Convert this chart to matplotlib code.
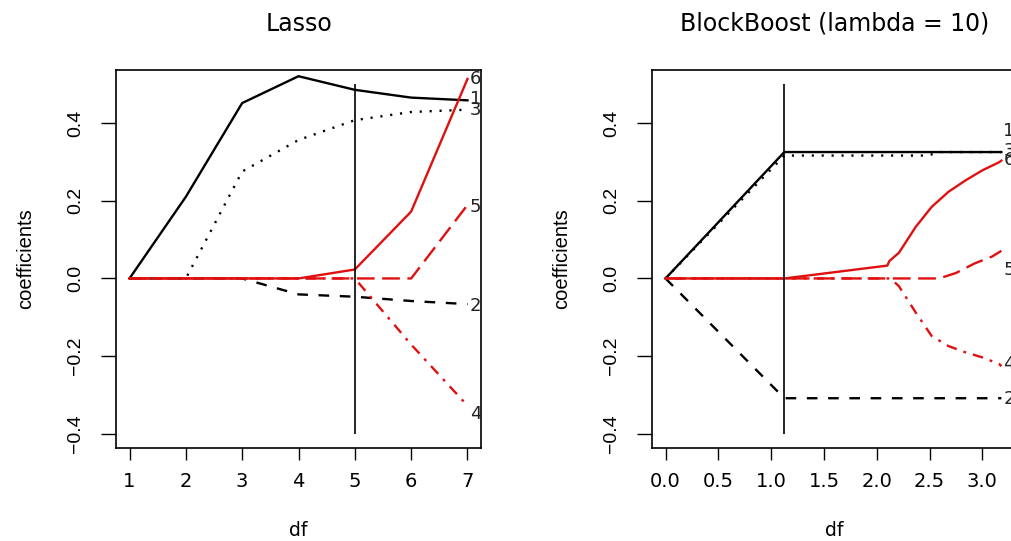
import numpy as np
import matplotlib
matplotlib.use("Agg")
import matplotlib.pyplot as plt

# Lasso path, coefficient values at each df step
lasso_df = [1, 2, 3, 4, 5, 6, 7]
lasso_b1 = [0, 0.21, 0.451, 0.52, 0.485, 0.465, 0.458]
lasso_b2 = [0, 0, 0, -0.041, -0.047, -0.058, -0.066]
lasso_b3 = [0, 0, 0.275, 0.356, 0.407, 0.428, 0.434]
lasso_b4 = [0, 0, 0, 0, 0, -0.17, -0.327]
lasso_b5 = [0, 0, 0, 0, 0, 0, 0.189]
lasso_b6 = [0, 0, 0, 0, 0.023, 0.172, 0.513]
lasso_cut = 5
lasso_lab_y = [0.462, -0.071, 0.434, -0.348, 0.185, 0.513]

# BlockBoost path (lambda = 10), df is continuous here
bb1_df = [0, 1.125, 3.18]
bb1_b = [0, 0.325, 0.325]
bb2_df = [0, 1.125, 3.18]
bb2_b = [0, -0.308, -0.308]
bb3_df = [0, 1.125, 2.48, 2.6, 3.18]
bb3_b = [0, 0.316, 0.316, 0.325, 0.325]
bb4_df = [0, 2.13, 2.21, 2.37, 2.52, 2.68, 2.84, 3.0, 3.16, 3.18]
bb4_b = [0, 0, -0.02, -0.088, -0.148, -0.174, -0.19, -0.203, -0.22, -0.226]
bb5_df = [0, 2.59, 2.75, 2.93, 3.09, 3.18]
bb5_b = [0, 0, 0.014, 0.039, 0.056, 0.071]
bb6_df = [0, 1.125, 2.1, 2.12, 2.21, 2.37, 2.52, 2.68, 2.84, 3.0, 3.16, 3.18]
bb6_b = [0, 0, 0.033, 0.045, 0.066, 0.133, 0.184, 0.223, 0.252, 0.278, 0.299, 0.303]
bb_cut = 1.125
bb_lab_y = [0.380, -0.31, 0.329, -0.221, 0.022, 0.304]

labels = ["1", "2", "3", "4", "5", "6"]
RED = "#e01010"
# colour / dash per coefficient, like matplot's lty = 1:6 cycle
styles = [
    dict(color="black", linestyle="-"),
    dict(color="black", dashes=(4.5, 4.5)),
    dict(color="black", dashes=(0.9, 3.3)),
    dict(color=RED, dashes=(1.2, 3.0, 4.5, 3.0)),
    dict(color=RED, dashes=(7.5, 3.2)),
    dict(color=RED, linestyle="-"),
]

TXT = "DejaVu Sans"
VTXT = "Liberation Sans"


def draw_path(ax, paths, cut, lab_y, xticks, xlim, title):
    for (x, y), st in zip(paths, styles):
        ax.plot(x, y, lw=1.7, **st)
    ax.vlines(cut, -0.4, 0.5, color="black", lw=1.2)

    x_end = [p[0][-1] for p in paths]
    for lbl, xe, ye in zip(labels, x_end, lab_y):
        ax.annotate(lbl, (xe, ye), xytext=(1.5, 0), textcoords="offset points",
                    ha="left", va="center", fontsize=13, family=TXT,
                    color="#222222", annotation_clip=False)

    ax.set_xlim(*xlim)
    ax.set_ylim(-0.436, 0.536)
    ax.set_xticks(xticks)
    ax.set_yticks([-0.4, -0.2, 0.0, 0.2, 0.4])
    ax.set_yticklabels(["\u22120.4", "\u22120.2", "0.0", "0.2", "0.4"])
    ax.tick_params(axis="x", length=8.6, width=1.0, pad=9, labelsize=14)
    ax.tick_params(axis="y", length=10.8, width=1.0, pad=12, labelsize=14,
                   labelrotation=90)
    for t in ax.get_xticklabels():
        t.set_family(TXT)
    for t in ax.get_yticklabels():
        t.set_family(VTXT)
        t.set_va("center")
    for s in ax.spines.values():
        s.set_linewidth(1.2)

    ax.text(0.5, 1.122, title, transform=ax.transAxes, ha="center",
            va="center", fontsize=17, family=TXT)
    ax.text(0.5, -0.217, "df", transform=ax.transAxes, ha="center",
            va="center", fontsize=13.5, family=TXT)
    ax.text(-0.247, 0.5, "coefficients", transform=ax.transAxes,
            rotation=90, ha="center", va="center", fontsize=14.5, family=VTXT)


fig = plt.figure(figsize=(10.11, 5.41), dpi=100)
ax1 = fig.add_axes([116 / 1011, 1 - 448 / 541, 365 / 1011, 378 / 541])
ax2 = fig.add_axes([652 / 1011, 1 - 448 / 541, 365 / 1011, 378 / 541])

lasso_paths = [(lasso_df, b) for b in
               [lasso_b1, lasso_b2, lasso_b3, lasso_b4, lasso_b5, lasso_b6]]
draw_path(ax1, lasso_paths, lasso_cut, lasso_lab_y,
          [1, 2, 3, 4, 5, 6, 7], (0.76, 7.24), "Lasso")

bb_paths = [(bb1_df, bb1_b), (bb2_df, bb2_b), (bb3_df, bb3_b),
            (bb4_df, bb4_b), (bb5_df, bb5_b), (bb6_df, bb6_b)]
draw_path(ax2, bb_paths, bb_cut, bb_lab_y,
          [0.0, 0.5, 1.0, 1.5, 2.0, 2.5, 3.0], (-0.128, 3.328),
          "BlockBoost (lambda = 10)")

fig.savefig("out.png", dpi=100)
